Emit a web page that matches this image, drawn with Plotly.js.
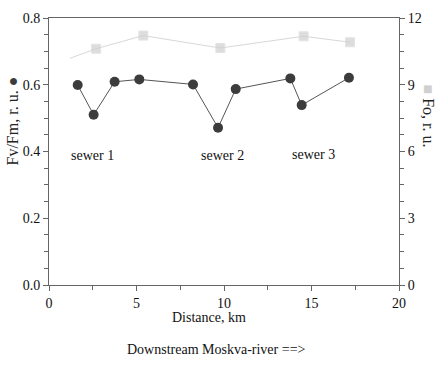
<!DOCTYPE html>
<html><head><meta charset="utf-8">
<script src="https://cdn.plot.ly/plotly-3.0.1.min.js"></script>
<style>html,body{margin:0;padding:0;background:#fff}</style>
</head><body><div id="chart" style="width:442px;height:371px"></div>
<script>
// Fv/Fm series (left axis)
const fvDist = [1.64, 2.55, 3.75, 5.16, 8.23, 9.66, 10.67, 13.79, 14.44, 17.14];
const fvVal  = [0.599, 0.510, 0.609, 0.616, 0.601, 0.471, 0.587, 0.619, 0.539, 0.621];
// Fo series (right axis); first point is the line start with no marker
const foDist = [1.2, 2.69, 5.39, 9.79, 14.55, 17.2];
const foVal  = [10.19, 10.62, 11.21, 10.65, 11.18, 10.91];
const foMarkerSize = [0, 9, 9, 9, 9, 9];
// annotations
const sewerLabels = ["sewer 1", "sewer 2", "sewer 3"];
const sewerX = [2.5, 9.9, 15.1];
const sewerY = [0.389, 0.389, 0.392];

const font = {family: "Liberation Serif, Times New Roman, serif", size: 14, color: "#111"};
const titleFont = {family: "Liberation Serif, Times New Roman, serif", size: 16, color: "#222"};
const axisColor = "#666";

const traces = [
  {x: foDist, y: foVal, yaxis: "y2", mode: "lines+markers", type: "scatter",
   line: {color: "#d8d8d8", width: 1},
   marker: {symbol: "square", size: foMarkerSize, color: "#d0d0d0"}},
  {x: fvDist, y: fvVal, mode: "lines+markers", type: "scatter",
   line: {color: "#555", width: 1},
   marker: {symbol: "circle", size: 10, color: "#3c3c3c"}}
];

const annotations = sewerLabels.map((t, i) => ({
  x: sewerX[i], y: sewerY[i], xref: "x", yref: "y", text: t, showarrow: false,
  font: font, xanchor: "center", yanchor: "middle"
}));
annotations.push(
  {xref: "paper", yref: "paper", x: 0.5, y: -0.12, text: "Distance, km", showarrow: false,
   font: font, xanchor: "center", yanchor: "middle", xshift: -15},
  {xref: "paper", yref: "paper", x: 0.5, y: -0.24, text: "Downstream Moskva-river ==>", showarrow: false,
   font: font, xanchor: "center", yanchor: "middle", xshift: -8},
  {xref: "paper", yref: "paper", x: 0, y: 0.5, xshift: -37, yshift: 30,
   text: "Fv/Fm, r. u. <span style='color:#3c3c3c'>●</span>", textangle: -90, showarrow: false,
   font: titleFont, xanchor: "center", yanchor: "middle"},
  {xref: "paper", yref: "paper", x: 1, y: 0.5, xshift: 29, yshift: 36,
   text: "<span style='color:#d0d0d0'>■</span> Fo, r. u.", textangle: 90, showarrow: false,
   font: titleFont, xanchor: "center", yanchor: "middle"}
);

const layout = {
  width: 442, height: 371,
  margin: {l: 49, r: 43, t: 18, b: 86},
  paper_bgcolor: "#fff", plot_bgcolor: "#fff",
  showlegend: false,
  font: font,
  xaxis: {range: [0, 20], tickvals: [0, 5, 10, 15, 20], ticks: "outside", ticklen: 5, tickcolor: axisColor,
          showline: true, linecolor: axisColor, linewidth: 1, mirror: true, showgrid: false, zeroline: false,
          minor: {dtick: 2.5, ticks: "outside", ticklen: 4, tickcolor: axisColor, showgrid: false},
          tickfont: font},
  yaxis: {range: [0, 0.8], tickvals: [0, 0.2, 0.4, 0.6, 0.8], tickformat: ".1f", ticks: "outside", ticklen: 5,
          tickcolor: axisColor, showline: true, linecolor: axisColor, linewidth: 1, showgrid: false, zeroline: false,
          minor: {dtick: 0.05, ticks: "outside", ticklen: 4, tickcolor: axisColor, showgrid: false},
          tickfont: font},
  yaxis2: {range: [0, 12], tickvals: [0, 3, 6, 9, 12], overlaying: "y", side: "right", ticks: "outside", ticklen: 5,
           tickcolor: axisColor, showline: true, linecolor: axisColor, linewidth: 1, showgrid: false, zeroline: false,
           minor: {dtick: 0.75, ticks: "outside", ticklen: 4, tickcolor: axisColor, showgrid: false},
           tickfont: font},
  annotations: annotations
};

Plotly.newPlot("chart", traces, layout, {displayModeBar: false, staticPlot: true});
</script>
</body></html>
